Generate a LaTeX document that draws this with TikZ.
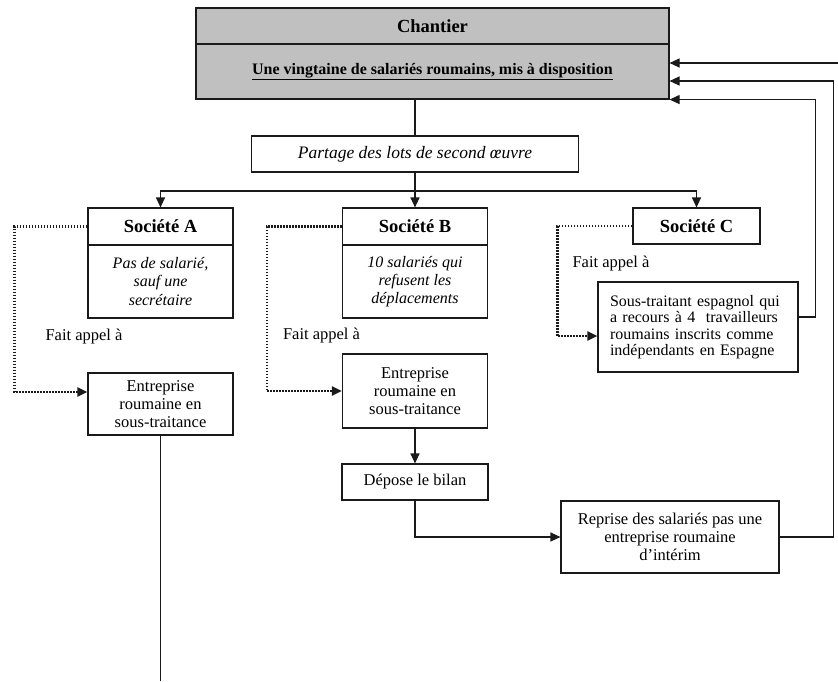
\documentclass[tikz,border=0pt]{standalone}
\usepackage{fontspec}
\setmainfont{Liberation Serif}
\usetikzlibrary{calc}
\usetikzlibrary{arrows.meta}
\definecolor{chantierColor}{HTML}{C0C0C0}
\definecolor{traitColor}{HTML}{1A1A1A}

\begin{document}
\begin{tikzpicture}[x=1pt, y=-1pt,
		bx/.style={draw=traitColor, line width=1.1pt, align=center, inner sep=0pt, font=\fontsize{16.5}{18}\selectfont},
		titre/.style={bx, font=\fontsize{18.5}{20}\selectfont\bfseries},
		detail/.style={bx, font=\fontsize{16}{18.3}\selectfont\itshape},
		lb/.style={font=\fontsize{16.5}{18}\selectfont},
		trait/.style={draw=traitColor, line width=1.1pt},
		fl/.style={trait, -{Triangle[length=10pt, width=9pt]}},
		pointille/.style={fl, line width=2.3pt, dash pattern=on 1.9pt off 1.1pt}
		]
		\useasboundingbox (0,0) rectangle (838,681);

		\node[titre, fill=chantierColor, minimum width=473pt, minimum height=36pt] (chantier) at (432.5,26) {Chantier};
		\node[bx, fill=chantierColor, minimum width=473pt, minimum height=55pt, font=\fontsize{16}{18}\selectfont\bfseries] (chantierMad) at (432.5,71.5) {\underline{Une vingtaine de salariés roumains, mis à disposition}};

		\node[detail, font=\fontsize{17.5}{20}\selectfont\itshape, minimum width=327pt, minimum height=36pt] (partage) at (415,154) {Partage des lots de second œuvre};

		\node[titre, minimum width=145pt, minimum height=37pt] (socA) at (160.5,226.5) {Société A};
		\node[detail, minimum width=145pt, minimum height=73pt] (socAdet) at (160.5,281.5) {Pas de salarié,\\ sauf une\\ secrétaire};

		\node[titre, minimum width=145pt, minimum height=37pt] (socB) at (415,226.5) {Société B};
		\node[detail, minimum width=145pt, minimum height=73pt] (socBdet) at (415,281.5) {10 salariés qui\\ refusent les\\ déplacements};

		\node[titre, minimum width=127pt, minimum height=36pt] (socC) at (696.5,226) {Société C};

		\node[bx, minimum width=145pt, minimum height=62pt] (entrA) at (160.5,404) {Entreprise\\ roumaine en\\ sous-traitance};
		\node[bx, minimum width=145pt, minimum height=74pt] (entrB) at (415,391) {Entreprise\\ roumaine en\\ sous-traitance};
		\node[bx, minimum width=146pt, minimum height=36pt] (depose) at (415,482) {Dépose le bilan};
		\node[bx, minimum width=218pt, minimum height=72pt] (reprise) at (670,537) {Reprise des salariés pas une\\ entreprise roumaine\\ d’intérim};
		\node[bx, align=left, text width=176pt, inner xsep=12pt, minimum height=90pt, font=\fontsize{16}{16.5}\selectfont] (soustr) at (698,327) {Sous-traitant espagnol qui\\ a recours à 4~ travailleurs\\ roumains inscrits comme\\ indépendants en Espagne};

		\node[lb] (appelA) at (84,337) {Fait appel à};
		\node[lb] (appelB) at (321.5,336) {Fait appel à};
		\node[lb] (appelC) at (611,264) {Fait appel à};

		\coordinate (bus) at (415,191);
		\coordinate (horsPage) at (838,63);
		\coordinate (basPage) at (160.5,681);

		\draw[trait] (partage.north) -- (partage.north |- chantierMad.south);
		\draw[fl] (partage.south) -- (socB.north);
		\draw[fl] (bus) -| (socA.north);
		\draw[fl] (bus) -| (socC.north);

		\draw[pointille] (socA.west) -- ++(-73,0) |- ([yshift=12pt]entrA.west);
		\draw[pointille] (socB.west) -- ++(-75,0) |- (entrB.west);
		\draw[pointille] (socC.west) -- ++(-75,0) |- ([yshift=-9pt]soustr.west);

		\draw[trait] (entrA.south) -- (basPage);
		\draw[fl] (entrB.south) -- (depose.north);
		\draw[fl] (depose.south) |- (reprise.west);

		\draw[fl] (horsPage) -- (horsPage -| chantierMad.east);
		\draw[fl] (reprise.east) -- ++(54,0) |- ([yshift=-9.5pt]chantierMad.east);
		\draw[fl] ([yshift=10pt]soustr.east) -- ++(17,0) |- (chantierMad.south east);
	\end{tikzpicture}
\end{document}
